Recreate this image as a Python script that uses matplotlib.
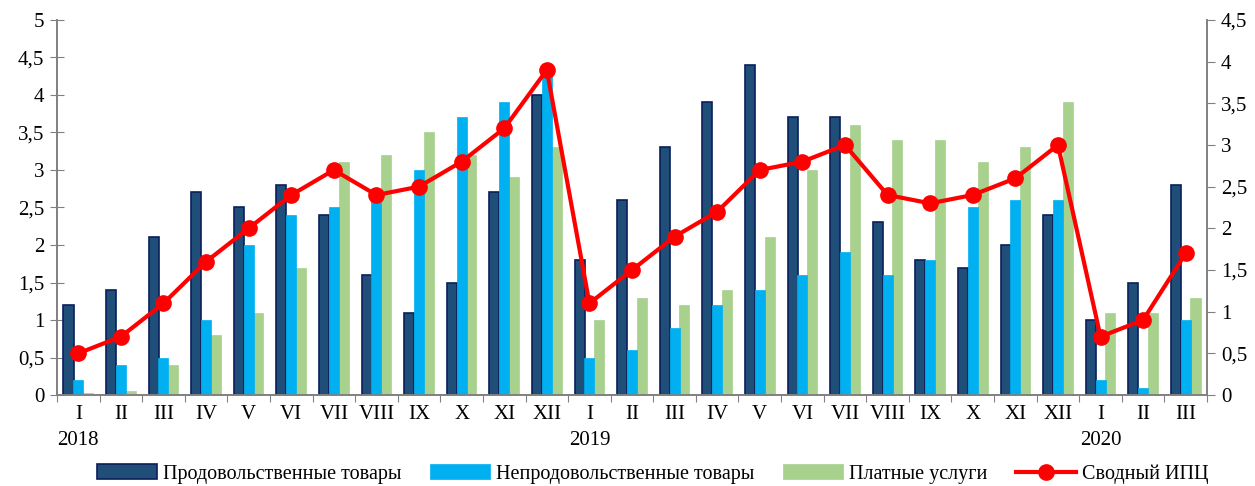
import numpy as np
import matplotlib
matplotlib.use("Agg")
import matplotlib.pyplot as plt
import matplotlib.transforms as mtransforms
from matplotlib.ticker import FuncFormatter

plt.rcParams['font.family'] = ['Liberation Serif', 'DejaVu Serif']

months = ["I", "II", "III", "IV", "V", "VI", "VII", "VIII", "IX", "X", "XI", "XII",
          "I", "II", "III", "IV", "V", "VI", "VII", "VIII", "IX", "X", "XI", "XII",
          "I", "II", "III"]
years = ["2018", "2019", "2020"]
year_pos = [0, 12, 24]

food = [1.2, 1.4, 2.1, 2.7, 2.5, 2.8, 2.4, 1.6, 1.1, 1.5, 2.7, 4.0,
        1.8, 2.6, 3.3, 3.9, 4.4, 3.7, 3.7, 2.3, 1.8, 1.7, 2.0, 2.4,
        1.0, 1.5, 2.8]
nonfood = [0.2, 0.4, 0.5, 1.0, 2.0, 2.4, 2.5, 2.7, 3.0, 3.7, 3.9, 4.3,
           0.5, 0.6, 0.9, 1.2, 1.4, 1.6, 1.9, 1.6, 1.8, 2.5, 2.6, 2.6,
           0.2, 0.1, 1.0]
services = [0.03, 0.05, 0.4, 0.8, 1.1, 1.7, 3.1, 3.2, 3.5, 3.2, 2.9, 3.3,
            1.0, 1.3, 1.2, 1.4, 2.1, 3.0, 3.6, 3.4, 3.4, 3.1, 3.3, 3.9,
            1.1, 1.1, 1.3]
cpi = [0.5, 0.7, 1.1, 1.6, 2.0, 2.4, 2.7, 2.4, 2.5, 2.8, 3.2, 3.9,
       1.1, 1.5, 1.9, 2.2, 2.7, 2.8, 3.0, 2.4, 2.3, 2.4, 2.6, 3.0,
       0.7, 0.9, 1.7]

x = np.arange(len(months))
w = 0.235
off = 0.23

fig = plt.figure(figsize=(12.55, 4.86), dpi=100)
ax = fig.add_axes([57 / 1255, 1 - 395 / 486, 1150 / 1255, 375 / 486])
ax2 = ax.twinx()

b1 = ax.bar(x - off, food, w, color='#1F4E79', edgecolor='#0A1F5C', linewidth=1.2,
            label='Продовольственные товары', zorder=2)
b2 = ax.bar(x, nonfood, w, color='#00B0F0', edgecolor='#00B0F0', linewidth=0.5,
            label='Непродовольственные товары', zorder=3)
b3 = ax.bar(x + off, services, w, color='#A9D18E', edgecolor='#A9D18E', linewidth=0.5,
            label='Платные услуги', zorder=2)
l1, = ax2.plot(x, cpi, color='#FF0000', lw=3, marker='o', markersize=11,
               label='Сводный ИПЦ', zorder=5)

ax.set_xlim(-0.5, len(months) - 0.5)
ax.set_ylim(0, 5)
ax2.set_ylim(0, 4.5)
ax.set_yticks(np.arange(0, 5.01, 0.5))
ax2.set_yticks(np.arange(0, 4.51, 0.5))
fmt = FuncFormatter(lambda v, p: ('%g' % v).replace('.', ','))
ax.yaxis.set_major_formatter(fmt)
ax2.yaxis.set_major_formatter(fmt)

ax.set_xticks(np.arange(-0.5, len(months), 1.0))
ax.set_xticklabels([])
ax.set_xticks(x, minor=True)
ax.set_xticklabels(months, minor=True)
ax.tick_params(axis='x', which='minor', length=0, pad=7, labelsize=15)
ax.tick_params(axis='x', which='major', length=5, color='#808080', direction='out')
ax.tick_params(axis='y', length=10, direction='inout', color='#808080', labelsize=15, pad=4)
ax2.tick_params(axis='y', length=6, direction='out', color='#808080', labelsize=15, pad=4)

for a in (ax, ax2):
    a.spines['top'].set_visible(False)
    for s in ('left', 'right', 'bottom'):
        a.spines[s].set_color('#808080')
        a.spines[s].set_linewidth(1.2)

trans = mtransforms.blended_transform_factory(ax.transData, fig.transFigure)
for yr, p in zip(years, year_pos):
    ax.text(p, 1 - 440 / 486, yr, transform=trans, ha='center', va='center', fontsize=15)

leg = fig.legend([b1, b2, b3, l1],
                 ['Продовольственные товары', 'Непродовольственные товары',
                  'Платные услуги', 'Сводный ИПЦ'],
                 loc='center', bbox_to_anchor=(0.52, 1 - 474 / 486), ncol=4,
                 frameon=False, fontsize=14.5, handlelength=3.0, handleheight=0.75,
                 columnspacing=1.4, handletextpad=0.3)

fig.savefig('out.png', dpi=100)
